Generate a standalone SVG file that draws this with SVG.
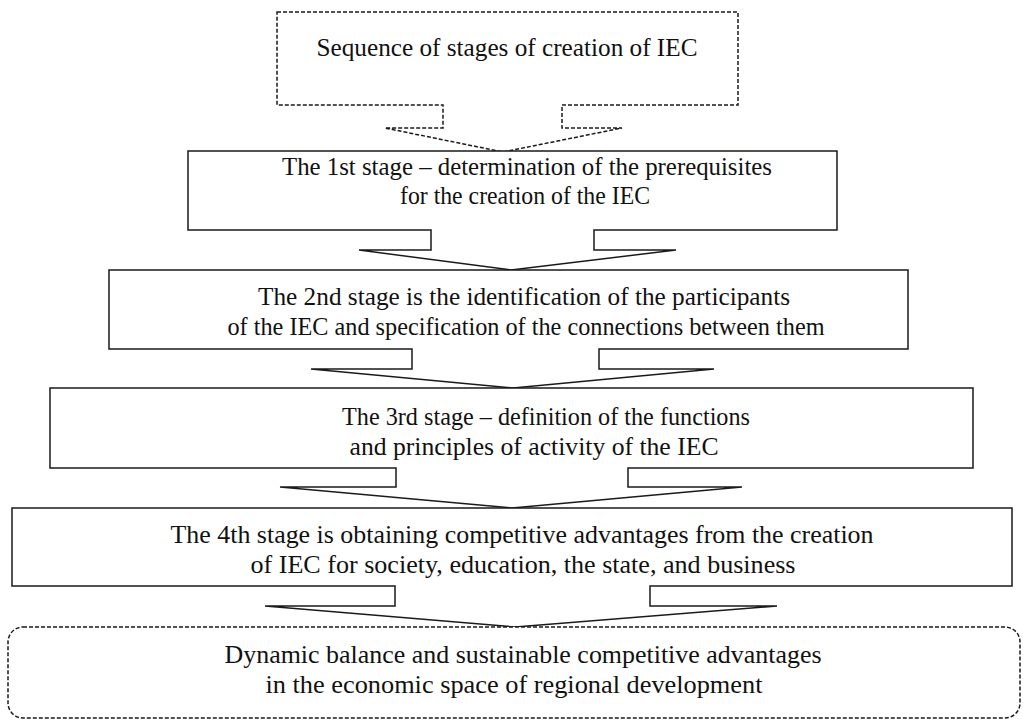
<svg xmlns="http://www.w3.org/2000/svg" width="1024" height="724" viewBox="0 0 1024 724">
<style>
.box{fill:#fff;stroke:#1a1a1a;stroke-width:1.5;stroke-linejoin:miter}
.dash{fill:#fff;stroke:#1a1a1a;stroke-width:1.5;stroke-dasharray:4,2}
</style>
<rect width="1024" height="724" fill="#fff"/>
<g id="connectors"></g>
<g font-family="Liberation Serif" font-size="25" fill="#111" text-anchor="middle">
<g id="node0">
<path class="dash" d="M277,12 H738 V105 H562 V128 H622 L503,152 L385,128 H443 V105 H277 Z"/>
<text x="507" y="56" textLength="381" lengthAdjust="spacingAndGlyphs">Sequence of stages of creation of IEC</text>
</g>
<g id="node1">
<path class="box" d="M188,151 H837 V230 H594 V250 H676 L511,270 L359,250 H431 V230 H188 Z"/>
<text x="527" y="175" textLength="490" lengthAdjust="spacingAndGlyphs">The 1st stage – determination of the prerequisites</text>
<text x="525" y="204" textLength="250" lengthAdjust="spacingAndGlyphs">for the creation of the IEC</text>
</g>
<g id="node2">
<path class="box" d="M109,270 H908 V349 H599 V369 H714 L513,388 L311,369 H412 V349 H109 Z"/>
<text x="524" y="305" textLength="532" lengthAdjust="spacingAndGlyphs">The 2nd stage is the identification of the participants</text>
<text x="526" y="335" textLength="597" lengthAdjust="spacingAndGlyphs">of the IEC and specification of the connections between them</text>
</g>
<g id="node3">
<path class="box" d="M50,388 H973 V468 H628 V487 H742 L512,508 L280,487 H396 V468 H50 Z"/>
<text x="546" y="425" textLength="408" lengthAdjust="spacingAndGlyphs">The 3rd stage – definition of the functions</text>
<text x="534" y="455" textLength="369" lengthAdjust="spacingAndGlyphs">and principles of activity of the IEC</text>
</g>
<g id="node4">
<path class="box" d="M12,508 H1012 V586 H650 V606 H777 L515,627 L265,606 H395 V586 H12 Z"/>
<text x="522" y="543" textLength="703" lengthAdjust="spacingAndGlyphs">The 4th stage is obtaining competitive advantages from the creation</text>
<text x="523" y="573" textLength="545" lengthAdjust="spacingAndGlyphs">of IEC for society, education, the state, and business</text>
</g>
<g id="node5">
<rect class="dash" x="8" y="627" width="1012" height="91" rx="15" ry="15"/>
<text x="523" y="663" textLength="597" lengthAdjust="spacingAndGlyphs">Dynamic balance and sustainable competitive advantages</text>
<text x="514" y="693" textLength="497" lengthAdjust="spacingAndGlyphs">in the economic space of regional development</text>
</g>
</g>
</svg>
